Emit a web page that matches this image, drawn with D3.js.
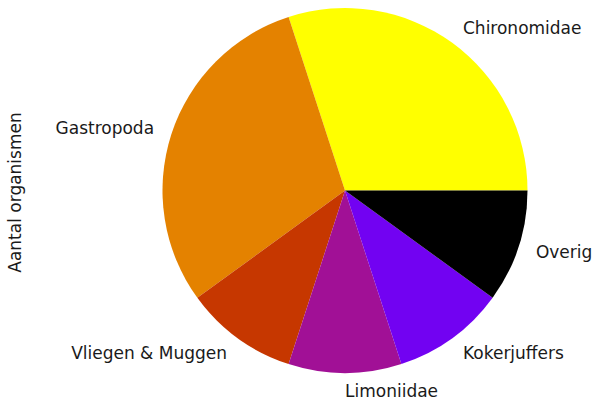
<!DOCTYPE html>
<html><head><meta charset="utf-8">
<script src="https://cdn.jsdelivr.net/npm/d3@7"></script>
<style>body{margin:0;background:#fff}svg{display:block}text{font-family:"DejaVu Sans",sans-serif;fill:#1a1a1a}</style>
</head><body>
<script>
const categories = ["Chironomidae","Gastropoda","Vliegen & Muggen","Limoniidae","Kokerjuffers","Overig"];
const values = [30,30,10,10,10,10];
const colors = ["#ffff00","#e48200","#c63700","#a11096","#7202f2","#000000"];
const yLabel = "Aantal organismen";

const W=593,H=406, cx=345, cy=190.5, R=182.5, fs=17;
const svg=d3.select("body").append("svg").attr("width",W).attr("height",H);
const data=categories.map((c,i)=>({c,v:values[i],col:colors[i]}));
// matplotlib: start at 0 rad (3 o'clock), counterclockwise
const pie=d3.pie().value(d=>d.v).sort(null).startAngle(Math.PI/2).endAngle(Math.PI/2-2*Math.PI);
const arcs=pie(data);
const arc=d3.arc().innerRadius(0).outerRadius(R);
const g=svg.append("g").attr("transform",`translate(${cx},${cy})`);
g.selectAll("path").data(arcs).join("path").attr("d",arc).attr("fill",d=>d.data.col);
g.selectAll("text").data(arcs).join("text")
  .attr("x",d=>{const a=(d.startAngle+d.endAngle)/2;return 1.1*R*Math.sin(a);})
  .attr("y",d=>{const a=(d.startAngle+d.endAngle)/2;return -1.1*R*Math.cos(a);})
  .attr("dy","0.35em")
  .attr("text-anchor",d=>{const a=(d.startAngle+d.endAngle)/2;return Math.sin(a)>0?"start":"end";})
  .style("font-size",fs+"px")
  .text(d=>d.data.c);
svg.append("text").attr("transform",`translate(21,${cy+2}) rotate(-90)`)
  .attr("text-anchor","middle").style("font-size",fs+"px").text(yLabel);
</script>
</body></html>
